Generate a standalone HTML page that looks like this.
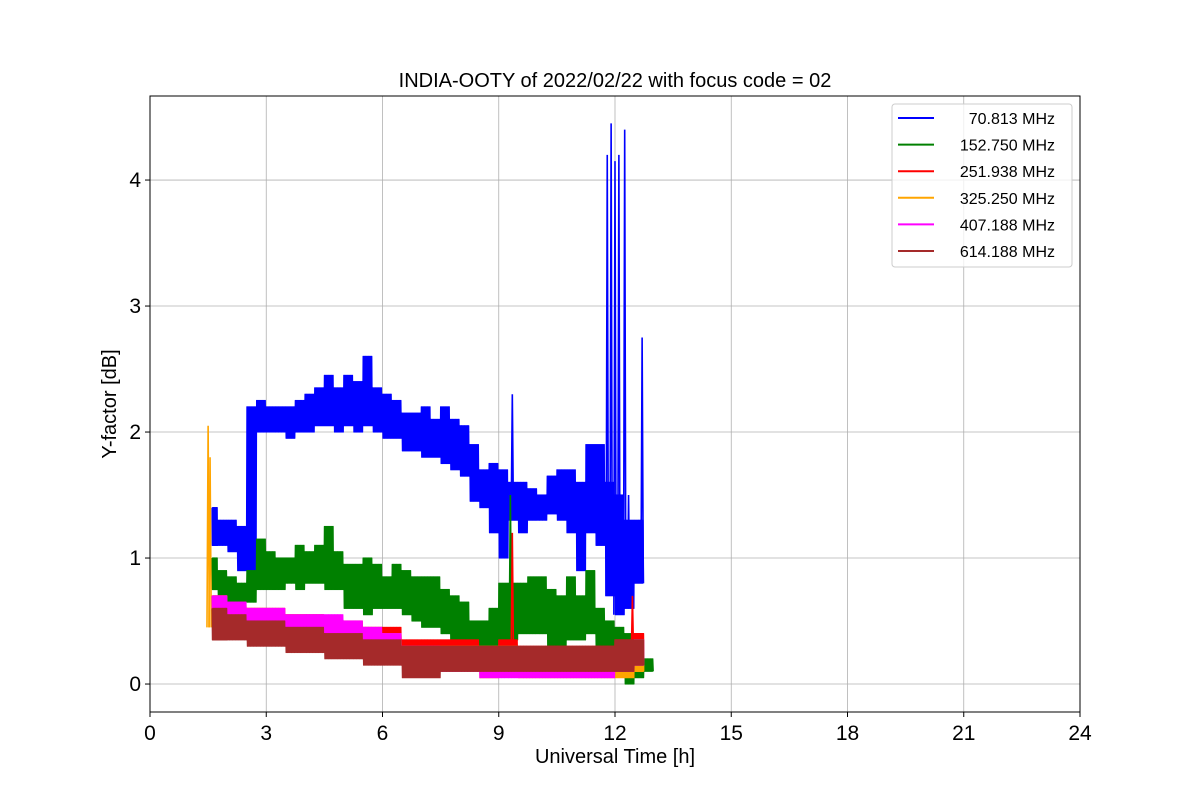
<!DOCTYPE html>
<html><head><meta charset="utf-8"><style>
body{margin:0;background:#fff;font-family:"Liberation Sans","DejaVu Sans",sans-serif}
</style></head><body>
<svg id="chart" width="1200" height="800" xmlns="http://www.w3.org/2000/svg">
<rect width="1200" height="800" fill="#fff"/>
<g id="grid"></g>
<g id="series" clip-path="url(#clip)"></g>
<defs><clipPath id="clip"><rect x="150" y="96" width="930" height="616"/></clipPath></defs>
<rect x="150" y="96" width="930" height="616" fill="none" stroke="#000" stroke-width="1"/>
<g id="ticks"></g>
<text x="615" y="87" text-anchor="middle" font-size="20">INDIA-OOTY of 2022/02/22 with focus code = 02</text>
<text x="615" y="763" text-anchor="middle" font-size="20">Universal Time [h]</text>
<text x="116" y="404" text-anchor="middle" font-size="20" transform="rotate(-90 116 404)">Y-factor [dB]</text>
<g id="legend"></g>
</svg>
<script>
const xTicks=[0,3,6,9,12,15,18,21,24];
const yTicks=[0,1,2,3,4];
const seriesNames=["70.813 MHz","152.750 MHz","251.938 MHz","325.250 MHz","407.188 MHz","614.188 MHz"];
const seriesColors=["#0000ff","#008000","#ff0000","#ffa500","#ff00ff","#a52a2a"];
const blueTimes=[1.6,1.75,2.0,2.25,2.5,2.75,3.0,3.25,3.5,3.75,4.0,4.25,4.5,4.75,5.0,5.25,5.5,5.75,6.0,6.25,6.5,6.75,7.0,7.25,7.5,7.75,8.0,8.25,8.5,8.75,9.0,9.25,9.5,9.75,10.0,10.25,10.5,10.75,11.0,11.25,11.5,11.75,12.0,12.25,12.5];
const blueLo=[1.1,1.1,1.05,0.9,0.85,2.0,2.0,2.0,1.95,2.0,2.0,2.05,2.05,2.0,2.05,2.0,2.05,2.0,1.95,1.95,1.85,1.85,1.8,1.8,1.75,1.7,1.65,1.45,1.4,1.2,1.0,1.3,1.2,1.3,1.3,1.35,1.3,1.2,0.9,1.2,1.1,0.7,0.55,0.6,0.8];
const blueHi=[1.4,1.3,1.3,1.25,2.2,2.25,2.2,2.2,2.2,2.25,2.3,2.35,2.45,2.35,2.45,2.4,2.6,2.35,2.3,2.25,2.15,2.15,2.2,2.1,2.2,2.1,2.05,1.9,1.7,1.75,1.7,1.6,1.6,1.55,1.5,1.65,1.7,1.7,1.6,1.9,1.9,1.6,1.5,1.3,1.3];
const blueSpikeT=[9.35,11.8,11.9,12.0,12.1,12.25,12.35,12.7];
const blueSpikeV=[2.3,4.2,4.45,4.15,4.2,4.4,1.5,2.75];
const greenTimes=blueTimes.concat([12.75]);
const greenLo=[0.75,0.7,0.65,0.65,0.65,0.75,0.75,0.75,0.8,0.75,0.8,0.8,0.75,0.75,0.6,0.6,0.55,0.6,0.6,0.6,0.55,0.5,0.45,0.45,0.4,0.3,0.3,0.2,0.15,0.25,0.35,0.35,0.4,0.4,0.4,0.3,0.3,0.35,0.35,0.4,0.3,0.25,0.2,0.0,0.05,0.1];
const greenHi=[1.0,0.9,0.85,0.8,0.9,1.15,1.05,1.0,1.0,1.1,1.05,1.1,1.25,1.05,0.95,0.95,1.0,0.95,0.85,0.95,0.9,0.85,0.85,0.85,0.75,0.7,0.65,0.5,0.5,0.6,0.8,0.8,0.8,0.85,0.85,0.75,0.7,0.85,0.7,0.9,0.6,0.5,0.45,0.4,0.3,0.2];
const greenSpikeT=[9.3];
const greenSpikeV=[1.5];
const lowTimes=[1.6,2.0,2.5,3.0,3.5,4.0,4.5,5.0,5.5,6.0,6.5,7.0,7.5,8.0,8.5,9.0,9.5,10.0,10.5,11.0,11.5,12.0,12.5];
const redLo=[0.5,0.45,0.45,0.4,0.4,0.35,0.35,0.3,0.3,0.25,0.2,0.2,0.2,0.2,0.15,0.2,0.15,0.15,0.15,0.15,0.15,0.2,0.2];
const redHi=[0.7,0.65,0.6,0.6,0.55,0.55,0.5,0.5,0.45,0.45,0.35,0.35,0.35,0.35,0.3,0.35,0.3,0.3,0.3,0.3,0.3,0.35,0.4];
const redSpikeT=[9.35,12.45];
const redSpikeV=[1.2,0.7];
const orangeLo=[0.45,0.45,0.4,0.4,0.35,0.35,0.3,0.3,0.25,0.2,0.15,0.1,0.1,0.1,0.05,0.1,0.05,0.05,0.05,0.05,0.05,0.05,0.1];
const orangeHi=[0.7,0.6,0.6,0.55,0.55,0.5,0.5,0.45,0.4,0.4,0.3,0.3,0.3,0.3,0.3,0.3,0.25,0.25,0.25,0.25,0.25,0.3,0.35];
const orangeSpikeT=[1.5,1.55];
const orangeSpikeV=[2.05,1.8];
const magentaLo=[0.5,0.5,0.45,0.45,0.4,0.4,0.35,0.35,0.3,0.2,0.15,0.1,0.1,0.1,0.05,0.05,0.05,0.05,0.05,0.05,0.05,0.1,0.15];
const magentaHi=[0.7,0.65,0.6,0.6,0.55,0.55,0.55,0.5,0.45,0.4,0.3,0.3,0.25,0.25,0.25,0.25,0.25,0.25,0.25,0.25,0.25,0.3,0.35];
const brownLo=[0.35,0.35,0.3,0.3,0.25,0.25,0.2,0.2,0.15,0.15,0.05,0.05,0.1,0.1,0.1,0.1,0.1,0.1,0.1,0.1,0.1,0.1,0.15];
const brownHi=[0.6,0.55,0.5,0.5,0.45,0.45,0.4,0.4,0.35,0.35,0.3,0.3,0.3,0.3,0.3,0.3,0.3,0.3,0.3,0.3,0.3,0.35,0.35];

const X0=150,X1=1080,Y0v=-0.222,Y1v=4.667,PY0=712,PY1=96;
function xs(t){return X0+(t/24)*(X1-X0);}
function ys(v){return PY0-(v-Y0v)/(Y1v-Y0v)*(PY0-PY1);}
const NS="http://www.w3.org/2000/svg";
function mk(tag,attrs,parent){const e=document.createElementNS(NS,tag);for(const k in attrs)e.setAttribute(k,attrs[k]);parent.appendChild(e);return e;}
const grid=document.getElementById('grid'),ticks=document.getElementById('ticks');
xTicks.forEach(t=>{
  const g=mk('line',{x1:xs(t),x2:xs(t),y1:PY1,y2:PY0,stroke:'#b0b0b0','stroke-width':0.8},grid);
  
  
  mk('line',{x1:xs(t),x2:xs(t),y1:PY0,y2:PY0+5,stroke:'#000'},ticks);
  const l=mk('text',{x:xs(t),y:PY0+28,'text-anchor':'middle','font-size':21},ticks);
  l.textContent=t;
  
  
});
yTicks.forEach(v=>{
  const g=mk('line',{x1:X0,x2:X1,y1:ys(v),y2:ys(v),stroke:'#b0b0b0','stroke-width':0.8},grid);
  
  
  mk('line',{x1:X0-5,x2:X0,y1:ys(v),y2:ys(v),stroke:'#000'},ticks);
  const l=mk('text',{x:X0-9,y:ys(v)+7,'text-anchor':'end','font-size':21},ticks);
  l.textContent=v;
  
  
});
const sg=document.getElementById('series');
function drawSeries(idx,times,lo,hi,spT,spV,nz){
  const col=seriesColors[idx];
  let pts=[];
  for(let i=0;i<times.length;i++){
    const step=(i<times.length-1?times[i+1]-times[i]:0.25);
    for(let k=0;k<nz;k++){
      const t=times[i]+step*k/nz;
      pts.push(xs(t).toFixed(1)+','+ys(k%2?lo[i]:hi[i]).toFixed(1));
    }
  }
  const p=mk('polyline',{points:pts.join(' '),fill:'none',stroke:col,'stroke-width':1.2,'stroke-linejoin':'round'},sg);
  
  
  for(let j=0;j<spT.length;j++){
    let i=0;while(i<times.length-1&&times[i+1]<=spT[j])i++;
    const s=mk('polyline',{points:xs(spT[j]-0.03)+','+ys(lo[i])+' '+xs(spT[j])+','+ys(spV[j])+' '+xs(spT[j]+0.03)+','+ys(lo[i]),fill:'none',stroke:col,'stroke-width':1.6},sg);
    
    
  }
}
drawSeries(0,blueTimes,blueLo,blueHi,blueSpikeT,blueSpikeV,20);
drawSeries(1,greenTimes,greenLo,greenHi,greenSpikeT,greenSpikeV,20);
drawSeries(2,lowTimes,redLo,redHi,redSpikeT,redSpikeV,40);
drawSeries(3,lowTimes,orangeLo,orangeHi,orangeSpikeT,orangeSpikeV,40);
drawSeries(4,lowTimes,magentaLo,magentaHi,[],[],40);
drawSeries(5,lowTimes,brownLo,brownHi,[],[],40);
const lg=document.getElementById('legend');
mk('rect',{x:892,y:104,width:180,height:163,rx:3,fill:'#fff','fill-opacity':0.8,stroke:'#ccc'},lg);
seriesNames.forEach((n,i)=>{
  const y=118+i*26.6;
  const e=mk('g',{},lg);
  
  
  mk('line',{x1:898,x2:934,y1:y,y2:y,stroke:seriesColors[i],'stroke-width':2},e);
  const t=mk('text',{x:1055,y:y+6,'text-anchor':'end','font-size':16},e);
  t.textContent=n;
});
</script>
</body></html>
